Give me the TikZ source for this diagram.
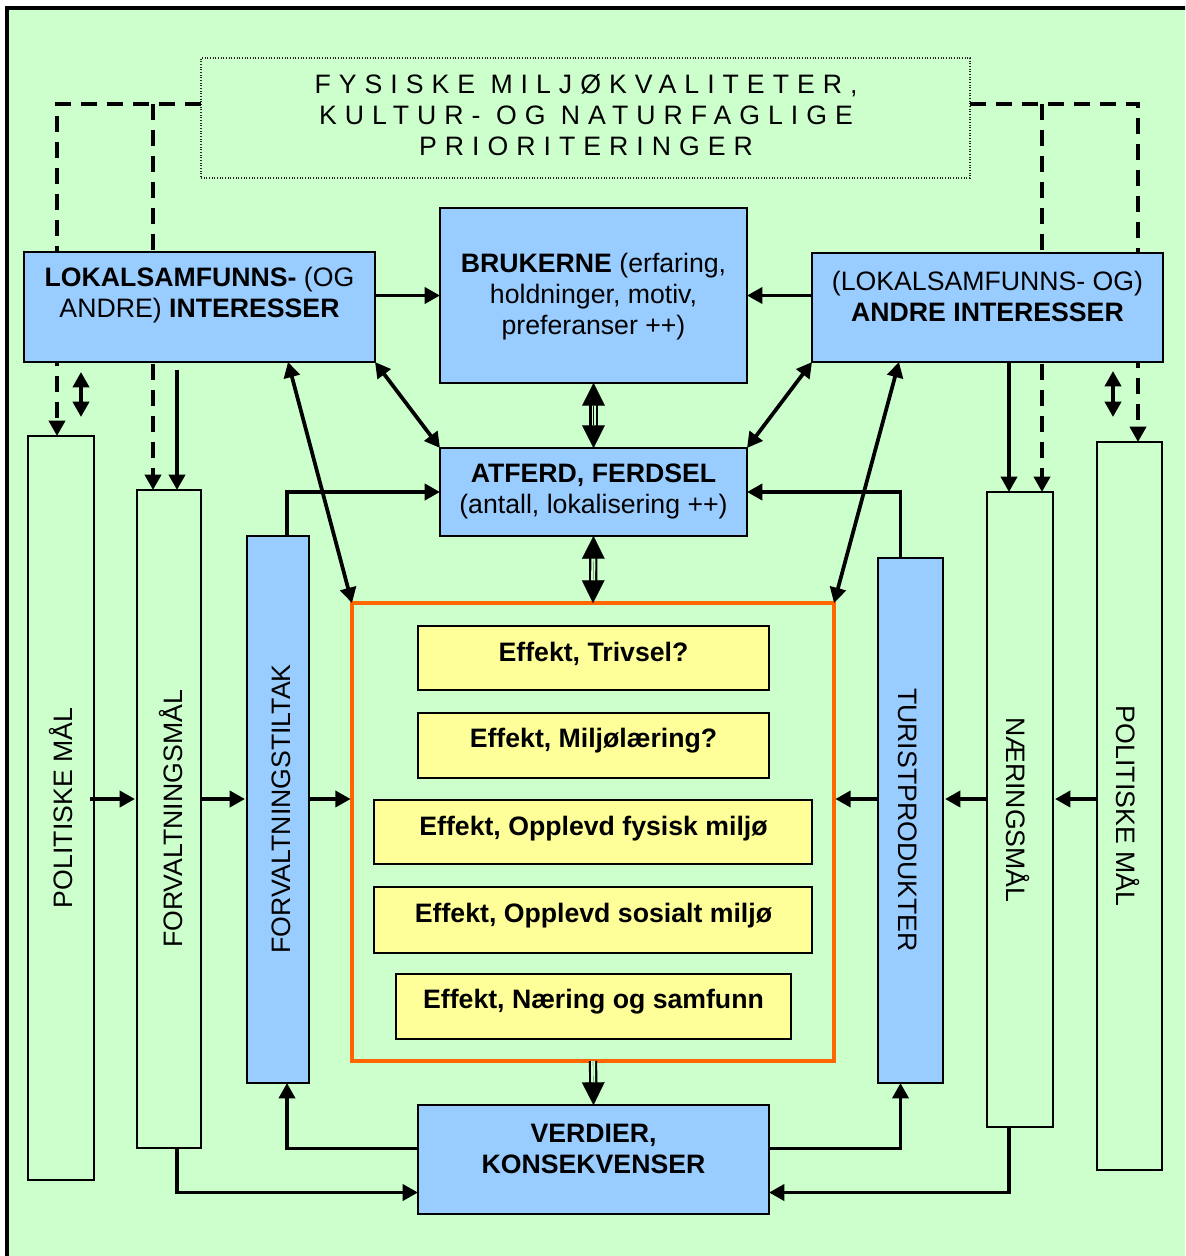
\documentclass[tikz,border=0pt]{standalone}
\usepackage{fontspec}
\setmainfont{Liberation Sans}
\newfontfamily\spaced[LetterSpace=30]{Liberation Sans}
\usetikzlibrary{arrows.meta,calc,fit}
\definecolor{bggreen}{HTML}{CCFFCC}
\definecolor{boxblue}{HTML}{99CCFF}
\definecolor{boxyellow}{HTML}{FFFF99}
\definecolor{effektorange}{HTML}{FF6600}
\begin{document}
\begin{tikzpicture}[x=0.75pt,y=-0.75pt, font=\fontsize{20pt}{23.25pt}\selectfont,
  frm/.style={inner sep=0pt, outer sep=0pt, line width=1.1pt, draw=black},
  bluebox/.style={frm, fill=boxblue},
  greenbox/.style={frm, fill=bggreen},
  yellowbox/.style={frm, fill=boxyellow},
  lbl/.style={inner sep=0pt, align=center},
  arr/.style={line width=2.8pt, -{Triangle[length=11.5pt,width=12pt]}},
  arrboth/.style={line width=2.8pt, {Triangle[length=11.5pt,width=12pt]}-{Triangle[length=11.5pt,width=12pt]}},
  dasharr/.style={line width=2.8pt, dash pattern=on 12pt off 7.5pt, -{Triangle[length=11.5pt,width=12pt]}},
  shaft/.style={line width=1.6pt, double=bggreen, double distance=3pt, shorten <=15pt, shorten >=15pt},
  bigtip/.style={line width=0.1pt, -{Triangle[length=17pt,width=17pt]}},
  bigtips/.style={line width=0.1pt, {Triangle[length=17pt,width=17pt]}-{Triangle[length=17pt,width=17pt]}},
]
\useasboundingbox (0,0) rectangle (1185,1256);
\clip (0,0) rectangle (1185,1256);
\draw[line width=3pt, fill=bggreen] (7,8) rectangle (1210,1280);

% top dotted box
\node[inner sep=0pt, outer sep=0pt, draw=black!85, line width=0.8pt, dash pattern=on 0.8pt off 1.2pt,
      fit={(201,58) (970,178)}] (phys) {};

% columns
\node[greenbox, fit={(28,436) (94,1180)}] (polL) {};
\node[greenbox, fit={(137,490) (201,1148)}] (forvalt) {};
\node[bluebox, fit={(247,536) (309,1083)}] (tiltak) {};
\node[bluebox, fit={(878,558) (943,1083)}] (turist) {};
\node[greenbox, fit={(987,492) (1053,1127)}] (naering) {};
\node[greenbox, fit={(1097,442) (1162,1170)}] (polR) {};

% dashed connectors (behind interest boxes)
\coordinate (dL) at ($(phys.west)+(0,-14)$);
\coordinate (plD) at ($(polL.north)+(-4,0)$);
\draw[dasharr] (dL) -| (plD);
\coordinate (fvD) at ($(forvalt.north)+(-16,0)$);
\draw[dasharr] (fvD |- dL) -- (fvD);
\coordinate (dR) at ($(phys.east)+(0,-14)$);
\coordinate (prD) at ($(polR.north)+(8.5,0)$);
\draw[dasharr] (dR) -| (prD);
\coordinate (naD) at ($(naering.north)+(22,0)$);
\draw[dasharr] (naD |- dR) -- (naD);

% main boxes
\node[bluebox, fit={(24,252) (375,362)}] (lokal) {};
\node[bluebox, fit={(440,208) (747,383)}] (brukerne) {};
\node[bluebox, fit={(812,253) (1163,362)}] (andre) {};
\node[bluebox, fit={(440,448) (747,536)}] (atferd) {};
\node[inner sep=0pt, outer sep=0pt, draw=effektorange, line width=2.3pt, fit={(352,603) (834,1061)}] (effekt) {};
\node[yellowbox, fit={(418,626) (769,690)}] (e1) {};
\node[yellowbox, fit={(418,713) (769,778)}] (e2) {};
\node[yellowbox, fit={(374,800) (812,864)}] (e3) {};
\node[yellowbox, fit={(374,887) (812,953)}] (e4) {};
\node[yellowbox, fit={(396,974) (791,1039)}] (e5) {};
\node[bluebox, fit={(418,1105) (769,1214)}] (verdier) {};

% texts
\node[lbl] (physT) at (586,115) {\spaced FYSISKE MILJØKVALITETER,\\ \spaced KULTUR- OG NATURFAGLIGE\\ \spaced PRIORITERINGER};
\node[lbl] (lokalT) at (199.5,295) {\textbf{LOKALSAMFUNNS-} (OG\\ANDRE) \textbf{INTERESSER}};
\node[lbl] (brukT) at (593.5,297) {\textbf{BRUKERNE} (erfaring,\\holdninger, motiv,\\preferanser ++)};
\node[lbl] (andreT) at (987.5,296.5) {(LOKALSAMFUNNS- OG)\\\textbf{ANDRE INTERESSER}};
\node[lbl] (atfT) at (593.5,491.5) {\textbf{ATFERD, FERDSEL}\\(antall, lokalisering ++)};
\node[lbl] (verdT) at (593.5,1148.5) {\textbf{VERDIER,}\\\textbf{KONSEKVENSER}};
\node[lbl] (e1T) at (593.5,654) {\textbf{Effekt, Trivsel?}};
\node[lbl] (e2T) at (593.5,741) {\textbf{Effekt, Miljølæring?}};
\node[lbl] (e3T) at (593.5,829) {\textbf{Effekt, Opplevd fysisk miljø}};
\node[lbl] (e4T) at (593.5,916) {\textbf{Effekt, Opplevd sosialt miljø}};
\node[lbl] (e5T) at (593.5,1002) {\textbf{Effekt, Næring og samfunn}};
\node[lbl, rotate=90] (polLT) at (61,808) {POLITISKE MÅL};
\node[lbl, rotate=90] (forvT) at (171,819) {FORVALTNINGSMÅL};
\node[lbl, rotate=90] (tiltT) at (281,809) {FORVALTNINGSTILTAK};
\node[lbl, rotate=-90] (turT) at (908,820) {TURISTPRODUKTER};
\node[lbl, rotate=-90] (naerT) at (1018,810) {NÆRINGSMÅL};
\node[lbl, rotate=-90] (polRT) at (1128,806) {POLITISKE MÅL};

% arrows at top
\draw[arr] (lokal.east |- brukerne.west) -- (brukerne.west);
\draw[arr] (andre.west |- brukerne.east) -- (brukerne.east);
\draw[arrboth] (lokal.south east) -- (atferd.north west);
\draw[arrboth] (andre.south west) -- (atferd.north east);
\coordinate (lk) at ($(lokal.south west)+(264,0)$);
\draw[arrboth] (lk) -- (effekt.north west);
\coordinate (ak) at ($(andre.south west)+(87,0)$);
\draw[arrboth] (ak) -- (effekt.north east);

% interest boxes to columns
\coordinate (fvS) at ($(forvalt.north)+(8,0)$);
\draw[arr, shorten <=6pt] (lokal.south -| fvS) -- (fvS);
\coordinate (naS) at ($(naering.north)+(-11,0)$);
\draw[arr] (andre.south -| naS) -- (naS);
\coordinate (bl1) at (81,372);
\coordinate (bl2) at (81,417);
\draw[arrboth] (bl1) -- (bl2);
\coordinate (br1) at (1113,371);
\coordinate (br2) at (1113,417);
\draw[arrboth] (br1) -- (br2);

% double-shaft arrows
\draw[shaft] (brukerne.south) -- (atferd.north);
\draw[bigtips] (brukerne.south) -- (atferd.north);
\draw[shaft] (atferd.south) -- (effekt.north);
\draw[bigtips] (atferd.south) -- (effekt.north);
\draw[shaft, shorten <=0pt] (effekt.south) -- (verdier.north);
\draw[bigtip] (effekt.south) -- (verdier.north);

% side connectors
\draw[arr] ($(tiltak.north)+(9,0)$) |- (atferd.west);
\draw[arr] ($(turist.north)+(-10,0)$) |- (atferd.east);
\draw[arr] ($(verdier.west)+(0,-11)$) -| ($(tiltak.south)+(9,0)$);
\draw[arr] ($(verdier.east)+(0,-11)$) -| ($(turist.south)+(-10,0)$);
\draw[arr] ($(forvalt.south)+(8,0)$) |- ($(verdier.west)+(0,33)$);
\draw[arr] ($(naering.south)+(-11,0)$) |- ($(verdier.east)+(0,33)$);

% horizontal row arrows
\coordinate (row) at (0,799);
\draw[arr, shorten >=1.5pt] ([xshift=-3pt]polL.east |- row) -- (forvalt.west |- row);
\draw[arr, shorten >=1.5pt] (forvalt.east |- row) -- (tiltak.west |- row);
\draw[arr, shorten >=1pt] (tiltak.east |- row) -- (effekt.west |- row);
\draw[arr, shorten >=1pt] (turist.west |- row) -- (effekt.east |- row);
\draw[arr, shorten >=1.5pt] (naering.west |- row) -- (turist.east |- row);
\draw[arr, shorten >=1.5pt] (polR.west |- row) -- (naering.east |- row);
\end{tikzpicture}
\end{document}
